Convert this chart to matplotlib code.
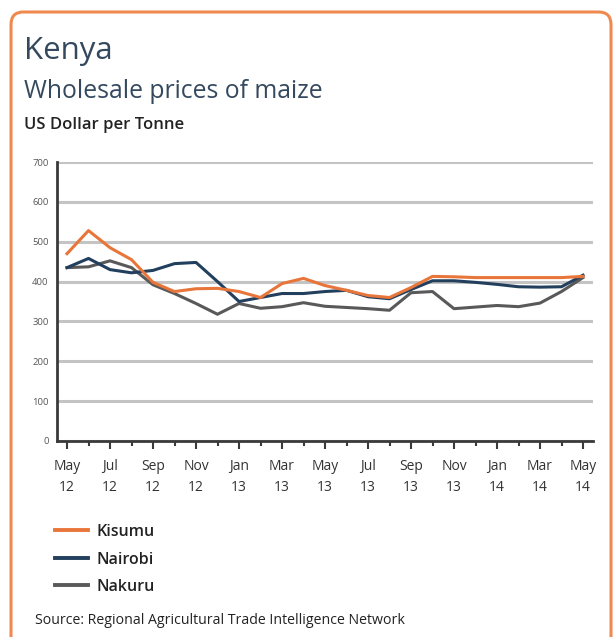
import matplotlib
matplotlib.use("Agg")
import matplotlib.pyplot as plt
from matplotlib.patches import FancyBboxPatch
from matplotlib.ticker import MultipleLocator

plt.rcParams['font.family'] = ['Open Sans', 'DejaVu Sans']

months = list(range(25))
tick_labels = ["May\n12", "Jul\n12", "Sep\n12", "Nov\n12", "Jan\n13", "Mar\n13", "May\n13",
               "Jul\n13", "Sep\n13", "Nov\n13", "Jan\n14", "Mar\n14", "May\n14"]
kisumu = [470, 528, 485, 455, 398, 375, 382, 383, 375, 360, 395, 408, 390, 378, 365, 360,
          385, 413, 412, 410, 410, 410, 410, 410, 413]
nairobi = [435, 458, 430, 422, 428, 445, 448, 400, 350, 360, 370, 370, 375, 378, 362, 357,
           380, 402, 402, 398, 393, 387, 386, 387, 416]
nakuru = [435, 437, 452, 435, 392, 370, 345, 318, 345, 333, 337, 347, 338, 335, 332, 328,
          372, 375, 332, 336, 340, 337, 346, 375, 410]

W, H = 615, 637
fig = plt.figure(figsize=(W / 100, H / 100), dpi=100)
fig.patch.set_facecolor('white')

# orange rounded frame
frame = FancyBboxPatch((11 / W, -20 / H), (611 - 11) / W, (H - 12 + 20) / H,
                       boxstyle="round,pad=0,rounding_size=0.02",
                       transform=fig.transFigure, facecolor='none',
                       edgecolor='#ef8a4f', linewidth=2.2, zorder=0)
fig.patches.append(frame)

title_color = '#34495e'
fig.text(24 / W, 1 - 51 / H, "Kenya", fontsize=22.5, color=title_color, va='center', ha='left')
fig.text(24 / W, 1 - 91 / H, "Wholesale prices of maize", fontsize=17.8, color=title_color,
         va='center', ha='left')
fig.text(24 / W, 1 - 125 / H, "US Dollar per Tonne", fontsize=12, color='#222222',
         va='center', ha='left', fontweight='semibold')

ax = fig.add_axes([57 / W, 1 - 441 / H, (593 - 57) / W, (441 - 162) / H])
ax.set_facecolor('none')
ax.set_xlim(-10 / 21.5, 24 + 10 / 21.5)
ax.set_ylim(0, 700)

ax.yaxis.set_major_locator(MultipleLocator(100))
ax.grid(axis='y', color='#c4c4c4', linewidth=2.2, zorder=0)
ax.set_axisbelow(True)

ax.plot(months, nakuru, color='#595959', linewidth=2.2, label='Nakuru', zorder=3)
ax.plot(months, nairobi, color='#233f5e', linewidth=2.2, label='Nairobi', zorder=4)
ax.plot(months, kisumu, color='#e8763a', linewidth=2.2, label='Kisumu', zorder=5)

for s in ['top', 'right']:
    ax.spines[s].set_visible(False)
for s in ['left', 'bottom']:
    ax.spines[s].set_color('#3a3a3a')
    ax.spines[s].set_linewidth(2.0)

ax.set_xticks(months[::2])
ax.set_xticklabels(tick_labels, fontsize=10, color='#333333', linespacing=1.5)
ax.set_xticks(months, minor=True)
ax.tick_params(axis='x', which='major', length=6, width=1.5, color='#3a3a3a', pad=7)
ax.tick_params(axis='x', which='minor', length=3.5, width=1.5, color='#3a3a3a')
ax.tick_params(axis='y', length=0, labelsize=6.8, labelcolor='#555555', pad=6)

handles, labels = ax.get_legend_handles_labels()
order = [2, 1, 0]
leg = fig.legend([handles[i] for i in order], [labels[i] for i in order],
                 loc='upper left', bbox_to_anchor=(55 / W, 1 - 524 / H),
                 frameon=False, labelspacing=0.72, handlelength=2.05,
                 handletextpad=0.55, borderaxespad=0, borderpad=0,
                 prop={'size': 11.5, 'weight': 'semibold'})
for t in leg.get_texts():
    t.set_color('#222222')
for l in leg.get_lines():
    l.set_linewidth(2.8)

fig.text(35 / W, 1 - 621 / H, "Source: Regional Agricultural Trade Intelligence Network",
         fontsize=10.2, color='#222222', va='center', ha='left')

fig.savefig("out.png", dpi=100)
